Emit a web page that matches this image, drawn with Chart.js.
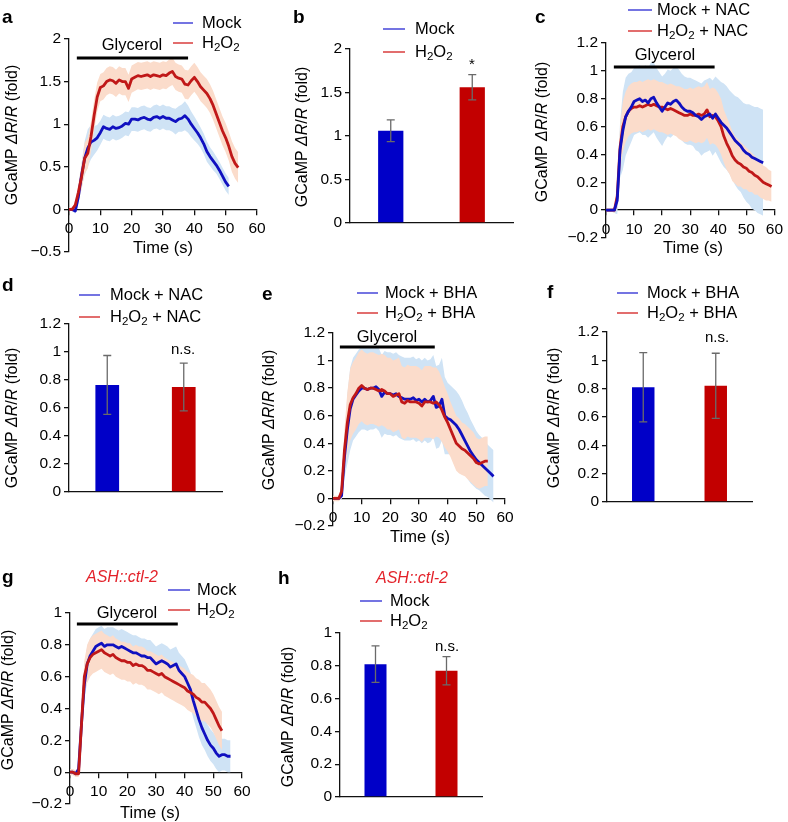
<!DOCTYPE html>
<html><head><meta charset="utf-8">
<script src="https://cdn.jsdelivr.net/npm/chart.js@4.4.1/dist/chart.umd.min.js"></script>
<style>
html,body{margin:0;padding:0;background:#fff;}
#wrap{position:relative;width:788px;height:822px;overflow:hidden;background:#fff;}
#wrap canvas{position:absolute;left:0;top:0;}
</style></head><body><div id="wrap"></div>
<script>
// ---------------- DATA ----------------
const T_STEP = 1; // seconds between samples
const X_TICKS = [0, 10, 20, 30, 40, 50, 60];
const BAR_CATS = ['Mock', 'H₂O₂'];

// Panel a (Mock vs H2O2)
const A_MOCK = [0,0,-0.02,0.15,0.4,0.6,0.72,0.79,0.81,0.84,
  0.9,0.97,0.95,0.94,0.97,0.95,0.96,0.98,1.01,1.0,
  1.06,1.06,1.05,1.07,1.08,1.06,1.05,1.08,1.09,1.07,
  1.09,1.07,1.07,1.05,1.03,1.06,1.07,1.1,1.06,1.0,
  0.95,0.9,0.84,0.77,0.68,0.62,0.57,0.52,0.46,0.39,
  0.32,0.27];
const A_MOCK_ERR = [0.02,0.02,0.03,0.08,0.14,0.2,0.22,0.2,0.17,0.15,
  0.14,0.14,0.14,0.14,0.14,0.14,0.14,0.14,0.14,0.14,
  0.14,0.14,0.14,0.14,0.14,0.14,0.14,0.14,0.14,0.14,
  0.14,0.14,0.14,0.14,0.15,0.15,0.16,0.17,0.16,0.15,
  0.14,0.13,0.12,0.12,0.12,0.11,0.11,0.1,0.1,0.1,
  0.1,0.1];
const A_H2O2 = [0,0,0.05,0.2,0.38,0.6,0.66,0.85,1.1,1.32,
  1.43,1.45,1.5,1.52,1.51,1.48,1.52,1.5,1.5,1.42,
  1.53,1.55,1.57,1.56,1.57,1.58,1.56,1.58,1.57,1.56,
  1.58,1.57,1.6,1.62,1.56,1.54,1.53,1.47,1.46,1.51,
  1.55,1.5,1.44,1.4,1.36,1.3,1.22,1.12,1.02,0.92,
  0.84,0.74,0.62,0.54,0.49];
const A_H2O2_ERR = [0.02,0.02,0.05,0.1,0.15,0.18,0.18,0.18,0.18,0.17,
  0.16,0.16,0.16,0.16,0.16,0.16,0.16,0.16,0.16,0.16,
  0.16,0.16,0.16,0.16,0.16,0.16,0.16,0.16,0.16,0.16,
  0.16,0.16,0.16,0.16,0.16,0.16,0.16,0.17,0.17,0.17,
  0.17,0.17,0.17,0.17,0.17,0.17,0.17,0.17,0.17,0.17,
  0.17,0.17,0.18,0.18,0.18];
const A_GLYCEROL = [2.5, 38];

// Panel b (bars)
const B_VALS = [1.06, 1.56];
const B_ERRS = [0.125, 0.145];

// Panel c (+ NAC)
const C_MOCK = [0,0,0,0,0.07,0.43,0.57,0.67,0.71,0.74,
  0.78,0.79,0.8,0.78,0.79,0.77,0.8,0.81,0.77,0.74,
  0.71,0.74,0.77,0.76,0.78,0.79,0.77,0.74,0.72,0.71,
  0.71,0.7,0.68,0.67,0.65,0.67,0.68,0.69,0.66,0.69,
  0.66,0.63,0.61,0.59,0.56,0.53,0.5,0.48,0.46,0.43,
  0.41,0.4,0.38,0.37,0.36,0.35,0.34];
const C_MOCK_ERR = [0.01,0.01,0.01,0.02,0.1,0.2,0.28,0.28,0.27,0.25,
  0.24,0.24,0.24,0.24,0.25,0.25,0.26,0.25,0.25,0.25,
  0.25,0.24,0.24,0.24,0.24,0.24,0.24,0.24,0.24,0.24,
  0.24,0.24,0.25,0.25,0.26,0.26,0.26,0.26,0.27,0.27,
  0.28,0.29,0.3,0.3,0.3,0.31,0.32,0.33,0.33,0.34,
  0.35,0.36,0.37,0.37,0.38,0.38,0.38];
const C_H2O2 = [0,0,0,0,0.1,0.45,0.6,0.67,0.71,0.73,
  0.74,0.74,0.75,0.74,0.75,0.76,0.75,0.76,0.75,0.74,
  0.74,0.73,0.72,0.73,0.72,0.71,0.7,0.69,0.68,0.68,
  0.69,0.68,0.68,0.69,0.68,0.69,0.72,0.67,0.68,0.67,
  0.64,0.6,0.53,0.48,0.44,0.39,0.36,0.34,0.33,0.31,
  0.3,0.28,0.27,0.25,0.24,0.22,0.2,0.19,0.18,0.17];
const C_H2O2_ERR = [0.01,0.01,0.01,0.02,0.08,0.15,0.18,0.18,0.18,0.18,
  0.18,0.18,0.18,0.18,0.18,0.18,0.18,0.18,0.18,0.18,
  0.18,0.18,0.18,0.18,0.18,0.18,0.19,0.19,0.19,0.19,
  0.19,0.19,0.2,0.2,0.2,0.2,0.2,0.2,0.2,0.2,
  0.2,0.2,0.19,0.19,0.18,0.18,0.17,0.17,0.16,0.16,
  0.15,0.15,0.14,0.14,0.13,0.13,0.12,0.12,0.11,0.11];
const C_GLYCEROL = [2.8, 38.7];

// Panel d (bars + NAC)
const D_VALS = [0.765, 0.75];
const D_ERRS = [0.21, 0.17];

// Panel e (+ BHA)
const E_MOCK = [0,0,0,0.02,0.3,0.5,0.65,0.72,0.75,0.78,
  0.8,0.8,0.79,0.8,0.8,0.81,0.79,0.74,0.77,0.76,
  0.76,0.75,0.76,0.74,0.73,0.72,0.72,0.72,0.73,0.71,
  0.72,0.7,0.72,0.7,0.71,0.74,0.66,0.67,0.72,0.6,
  0.58,0.57,0.55,0.53,0.5,0.46,0.42,0.38,0.34,0.31,
  0.28,0.26,0.24,0.22,0.2,0.18,0.16];
const E_MOCK_ERR = [0.01,0.01,0.01,0.03,0.15,0.25,0.3,0.3,0.3,0.3,
  0.3,0.3,0.3,0.3,0.3,0.3,0.3,0.3,0.3,0.3,
  0.3,0.3,0.3,0.3,0.3,0.3,0.3,0.3,0.3,0.3,
  0.3,0.3,0.3,0.3,0.3,0.3,0.3,0.3,0.3,0.28,
  0.26,0.25,0.25,0.25,0.25,0.25,0.24,0.24,0.23,0.22,
  0.21,0.2,0.2,0.2,0.19,0.19,0.19];
const E_H2O2 = [0,0,0,0.05,0.35,0.55,0.68,0.73,0.76,0.8,
  0.82,0.8,0.79,0.8,0.8,0.79,0.78,0.79,0.78,0.76,
  0.76,0.74,0.75,0.76,0.7,0.69,0.71,0.7,0.7,0.7,
  0.69,0.67,0.7,0.7,0.7,0.69,0.7,0.68,0.64,0.59,
  0.55,0.5,0.45,0.4,0.38,0.36,0.35,0.33,0.31,0.29,
  0.26,0.25,0.26,0.27,0.27];
const E_H2O2_ERR = [0.02,0.02,0.02,0.05,0.15,0.22,0.26,0.26,0.26,0.26,
  0.26,0.26,0.26,0.26,0.26,0.26,0.26,0.26,0.26,0.26,
  0.26,0.26,0.26,0.26,0.26,0.26,0.26,0.26,0.26,0.26,
  0.26,0.26,0.26,0.26,0.26,0.26,0.25,0.24,0.23,0.22,
  0.21,0.2,0.2,0.2,0.2,0.19,0.19,0.19,0.19,0.19,
  0.18,0.18,0.18,0.18,0.18];
const E_GLYCEROL = [2.4, 35.5];

// Panel f (bars + BHA)
const F_VALS = [0.81, 0.82];
const F_ERRS = [0.245, 0.23];

// Panel g (ASH::ctl-2)
const G_MOCK = [0,0,-0.01,0.02,0.3,0.55,0.68,0.73,0.76,0.79,
  0.8,0.81,0.79,0.8,0.8,0.8,0.79,0.78,0.79,0.78,
  0.77,0.76,0.75,0.75,0.74,0.73,0.73,0.72,0.72,0.7,
  0.68,0.69,0.7,0.69,0.68,0.66,0.67,0.68,0.64,0.62,
  0.6,0.56,0.52,0.45,0.39,0.33,0.28,0.24,0.2,0.17,
  0.15,0.12,0.1,0.11,0.11,0.1,0.1];
const G_MOCK_ERR = [0.01,0.01,0.01,0.02,0.08,0.1,0.11,0.11,0.11,0.11,
  0.11,0.11,0.11,0.11,0.11,0.11,0.11,0.11,0.11,0.11,
  0.11,0.11,0.11,0.11,0.11,0.11,0.11,0.11,0.11,0.11,
  0.11,0.11,0.11,0.11,0.11,0.11,0.11,0.11,0.11,0.11,
  0.11,0.11,0.11,0.11,0.11,0.11,0.11,0.1,0.1,0.1,
  0.1,0.1,0.1,0.1,0.1,0.1,0.1];
const G_H2O2 = [0,0,-0.01,-0.01,0.3,0.6,0.68,0.72,0.74,0.75,
  0.76,0.77,0.75,0.74,0.73,0.74,0.72,0.71,0.7,0.7,
  0.69,0.69,0.67,0.68,0.67,0.67,0.66,0.64,0.64,0.63,
  0.62,0.61,0.62,0.6,0.59,0.58,0.57,0.56,0.55,0.54,
  0.53,0.51,0.5,0.49,0.47,0.46,0.44,0.44,0.42,0.4,
  0.37,0.33,0.29,0.26];
const G_H2O2_ERR = [0.02,0.02,0.02,0.02,0.08,0.1,0.12,0.12,0.12,0.12,
  0.12,0.12,0.12,0.12,0.12,0.12,0.12,0.12,0.12,0.12,
  0.12,0.12,0.12,0.12,0.12,0.12,0.12,0.12,0.12,0.12,
  0.12,0.12,0.12,0.12,0.12,0.12,0.12,0.12,0.12,0.12,
  0.12,0.12,0.12,0.12,0.12,0.12,0.12,0.12,0.12,0.12,
  0.12,0.12,0.12,0.12];
const G_GLYCEROL = [2.4, 37.6];

// Panel h (bars ASH::ctl-2)
const H_VALS = [0.81, 0.77];
const H_ERRS = [0.111, 0.086];

// ---------------- STYLE ----------------
const FONT = "'Liberation Sans', Arial, Helvetica, sans-serif";
const TXT = '#000';
const BLUE_LINE = '#1010c0', RED_LINE = '#c01818';
const BLUE_BAND = '#cfe3f5', RED_BAND = '#fbdccb';
const BLUE_BAR = '#0000c8', RED_BAR = '#c20000';
const LEG_BLUE = '#4646d8', LEG_RED = '#d83c3c';
const ERR_COLOR = '#6a6a6a';
const HEAD_RED = '#e3222a';
const YW = 45;
const PAGE_W = 788, PAGE_H = 822;

function richParts(str){
  const out=[]; const re=/(_\{[^}]*\}|\*[^*]*\*)/g; let last=0, m;
  while((m=re.exec(str))){
    if(m.index>last) out.push({t:str.slice(last,m.index)});
    const s=m[0];
    if(s[0]==='_') out.push({t:s.slice(2,-1), sub:true}); else out.push({t:s.slice(1,-1), it:true});
    last=re.lastIndex;
  }
  if(last<str.length) out.push({t:str.slice(last)});
  return out;
}
function fontStr(size, it, bold){ return (it?'italic ':'')+(bold?'bold ':'')+size+'px '+FONT; }
function drawRich(ctx, str, x, y, size, align, color, bold){
  const parts=richParts(str);
  let w=0;
  parts.forEach(p=>{ p.size = p.sub? size*0.7 : size; ctx.font=fontStr(p.size,p.it,bold); p.w=ctx.measureText(p.t).width; w+=p.w; });
  let cx = align==='center'? x-w/2 : (align==='right'? x-w : x);
  ctx.fillStyle=color; ctx.textBaseline='middle'; ctx.textAlign='left';
  parts.forEach(p=>{ ctx.font=fontStr(p.size,p.it,bold); ctx.fillText(p.t, cx, y + (p.sub? size*0.32:0)); cx+=p.w; });
}

const decoPlugin = {
  id:'deco',
  afterDraw(chart, args, o){
    if(!o || !o.on) return;
    const ctx=chart.ctx, xs=chart.scales.x, ys=chart.scales.y;
    ctx.save();
    if(o.errs){
      const meta=chart.getDatasetMeta(0);
      ctx.strokeStyle=ERR_COLOR; ctx.lineWidth=1.3;
      meta.data.forEach((bar,i)=>{
        const v=o.errs.vals[i], e=o.errs.errs[i];
        const y1=ys.getPixelForValue(v+e), y2=ys.getPixelForValue(v-e);
        ctx.beginPath();
        ctx.moveTo(bar.x,y1); ctx.lineTo(bar.x,y2);
        ctx.moveTo(bar.x-4,y1); ctx.lineTo(bar.x+4,y1);
        ctx.moveTo(bar.x-4,y2); ctx.lineTo(bar.x+4,y2);
        ctx.stroke();
      });
    }
    if(o.gly){
      const x1=xs.getPixelForValue(o.gly.range[0]), x2=xs.getPixelForValue(o.gly.range[1]);
      ctx.strokeStyle='#000'; ctx.lineWidth=3;
      ctx.beginPath(); ctx.moveTo(x1,o.gly.y); ctx.lineTo(x2,o.gly.y); ctx.stroke();
      drawRich(ctx,'Glycerol',o.gly.tx,o.gly.ty,16.5,'center',TXT);
    }
    if(o.legend){
      o.legend.forEach(L=>{
        ctx.strokeStyle=L.c; ctx.lineWidth=1.5;
        ctx.beginPath(); ctx.moveTo(L.x1,L.y); ctx.lineTo(L.x2,L.y); ctx.stroke();
        drawRich(ctx,L.t,L.tx,L.y,16.5,'left',TXT);
      });
    }
    if(o.letter) drawRich(ctx,o.letter.t,o.letter.x,o.letter.y,19,'left','#000',true);
    if(o.ytitle){
      ctx.save(); ctx.translate(o.ytitle.x,o.ytitle.y); ctx.rotate(-Math.PI/2);
      drawRich(ctx,'GCaMP *ΔR*/*R* (fold)',0,0,16,'center',TXT);
      ctx.restore();
    }
    if(o.xtitle) drawRich(ctx,'Time (s)',o.xtitle.x,o.xtitle.y,16.5,'center',TXT);
    if(o.sig) drawRich(ctx,o.sig.t,o.sig.x,o.sig.y,15,'center',TXT);
    if(o.head) drawRich(ctx,'*ASH::ctl-2*',o.head.x,o.head.y,16,'center',HEAD_RED);
    ctx.restore();
  }
};
Chart.register(decoPlugin);

function pts(arr){ return arr.map((v,i)=>({x:i*T_STEP, y:v})); }
function bandPts(mean, err, sign){ return mean.map((v,i)=>({x:i*T_STEP, y:v+sign*err[i]})); }
function fmt(v){ return String(Math.round(v*100)/100).replace('-', '\u2212'); }
function pad(box){ return {left:box.left-YW, right:PAGE_W-box.right, top:box.top, bottom:PAGE_H-box.bottom}; }
function axisStyle(){
  return {
    grid:{display:true, drawOnChartArea:false, drawTicks:true, tickLength:5, color:'#111', lineWidth:1.3},
    border:{display:true, color:'#111', width:1.3}
  };
}
function newCanvas(){
  const c=document.createElement('canvas');
  c.width=PAGE_W; c.height=PAGE_H; c.style.width=PAGE_W+'px'; c.style.height=PAGE_H+'px';
  document.getElementById('wrap').appendChild(c);
  return c;
}

function lineChart(p){
  const ds = [
    {data:bandPts(p.mock,p.mockErr,1), borderWidth:0, pointRadius:0, fill:false, order:6},
    {data:bandPts(p.mock,p.mockErr,-1), borderWidth:0, pointRadius:0, fill:'-1', backgroundColor:BLUE_BAND, order:6},
    {data:bandPts(p.h2o2,p.h2o2Err,1), borderWidth:0, pointRadius:0, fill:false, order:5},
    {data:bandPts(p.h2o2,p.h2o2Err,-1), borderWidth:0, pointRadius:0, fill:'-1', backgroundColor:RED_BAND, order:5},
    {data:pts(p.mock), borderColor:BLUE_LINE, borderWidth:2.8, pointRadius:0, fill:false, order:p.blueTop?1:2},
    {data:pts(p.h2o2), borderColor:RED_LINE, borderWidth:2.8, pointRadius:0, fill:false, order:p.blueTop?2:1}
  ];
  const st=axisStyle(); const st2=axisStyle();
  return new Chart(newCanvas(), {
    type:'line',
    data:{datasets:ds},
    options:{
      responsive:false, animation:false, events:[],
      layout:{padding:pad(p.box)},
      elements:{line:{tension:0, borderJoinStyle:'round'}},
      scales:{
        x:{type:'linear', min:0, max:60, position:{y:0},
           afterBuildTicks(s){ s.ticks = X_TICKS.map(v=>({value:v})); },
           ticks:{font:{family:FONT,size:15.5}, color:TXT, padding:5, maxRotation:0, autoSkip:false},
           grid:st.grid, border:st.border, afterFit(s){ s.height=0; }},
        y:{type:'linear', min:p.ymin, max:p.ymax, position:'left',
           ticks:{stepSize:p.step, font:{family:FONT,size:15.5}, color:TXT, padding:3, callback:fmt},
           grid:st2.grid, border:st2.border, afterFit(s){ s.width=YW; }}
      },
      plugins:{legend:{display:false}, tooltip:{enabled:false}, deco:Object.assign({on:true}, p.deco)}
    }
  });
}

function barChart(p){
  const st=axisStyle();
  return new Chart(newCanvas(), {
    type:'bar',
    data:{labels:BAR_CATS, datasets:[{data:p.vals, backgroundColor:[BLUE_BAR,RED_BAR], barPercentage:1, categoryPercentage:0.31}]},
    options:{
      responsive:false, animation:false, events:[],
      layout:{padding:pad(p.box)},
      scales:{
        x:{type:'category', ticks:{display:false}, grid:{display:false, drawTicks:false}, border:{display:true,color:'#111',width:1.3}, afterFit(s){ s.height=0; }},
        y:{type:'linear', min:0, max:p.ymax, position:'left',
           ticks:{stepSize:p.step, font:{family:FONT,size:15.5}, color:TXT, padding:3, callback:fmt},
           grid:st.grid, border:st.border, afterFit(s){ s.width=YW; }}
      },
      plugins:{legend:{display:false}, tooltip:{enabled:false}, deco:Object.assign({on:true, errs:{vals:p.vals, errs:p.errs}}, p.deco)}
    }
  });
}

// ---------------- PANELS ----------------
lineChart({box:{left:69,right:257,top:39,bottom:252}, ymin:-0.5, ymax:2, step:0.5,
  mock:A_MOCK, mockErr:A_MOCK_ERR, h2o2:A_H2O2, h2o2Err:A_H2O2_ERR,
  deco:{letter:{t:'a',x:2,y:18},
    legend:[{t:'Mock',c:LEG_BLUE,x1:173,x2:193,y:23,tx:202},{t:'H_{2}O_{2}',c:LEG_RED,x1:173,x2:193,y:43,tx:202}],
    gly:{range:A_GLYCEROL,y:58,tx:132,ty:45}, ytitle:{x:13,y:135}, xtitle:{x:163,y:248}}});

barChart({box:{left:350,right:513,top:49,bottom:223}, ymax:2, step:0.5, vals:B_VALS, errs:B_ERRS,
  deco:{letter:{t:'b',x:293,y:18},
    legend:[{t:'Mock',c:LEG_BLUE,x1:383,x2:405,y:29,tx:415},{t:'H_{2}O_{2}',c:LEG_RED,x1:383,x2:405,y:52,tx:415}],
    ytitle:{x:303,y:137}, sig:{t:'*',x:472,y:65}}});

lineChart({box:{left:606,right:778,top:43,bottom:238}, ymin:-0.2, ymax:1.2, step:0.2, blueTop:true,
  mock:C_MOCK, mockErr:C_MOCK_ERR, h2o2:C_H2O2, h2o2Err:C_H2O2_ERR,
  deco:{letter:{t:'c',x:535,y:18},
    legend:[{t:'Mock + NAC',c:LEG_BLUE,x1:628,x2:652,y:10,tx:657},{t:'H_{2}O_{2} + NAC',c:LEG_RED,x1:628,x2:652,y:31,tx:657}],
    gly:{range:C_GLYCEROL,y:67,tx:665,ty:55}, ytitle:{x:543,y:132}, xtitle:{x:693,y:248}}});

barChart({box:{left:69,right:222,top:324,bottom:492}, ymax:1.2, step:0.2, vals:D_VALS, errs:D_ERRS,
  deco:{letter:{t:'d',x:2,y:286},
    legend:[{t:'Mock + NAC',c:LEG_BLUE,x1:79,x2:100,y:295,tx:110},{t:'H_{2}O_{2} + NAC',c:LEG_RED,x1:79,x2:100,y:317,tx:110}],
    ytitle:{x:13,y:418}, sig:{t:'n.s.',x:183,y:350}}});

lineChart({box:{left:333,right:505,top:333,bottom:526}, ymin:-0.2, ymax:1.2, step:0.2,
  mock:E_MOCK, mockErr:E_MOCK_ERR, h2o2:E_H2O2, h2o2Err:E_H2O2_ERR,
  deco:{letter:{t:'e',x:262,y:295},
    legend:[{t:'Mock + BHA',c:LEG_BLUE,x1:357,x2:378,y:293,tx:385},{t:'H_{2}O_{2} + BHA',c:LEG_RED,x1:357,x2:378,y:313,tx:385}],
    gly:{range:E_GLYCEROL,y:347,tx:387,ty:337}, ytitle:{x:270,y:420}, xtitle:{x:420,y:537}}});

barChart({box:{left:607,right:752,top:332,bottom:502}, ymax:1.2, step:0.2, vals:F_VALS, errs:F_ERRS,
  deco:{letter:{t:'f',x:547,y:293},
    legend:[{t:'Mock + BHA',c:LEG_BLUE,x1:617,x2:638,y:293,tx:647},{t:'H_{2}O_{2} + BHA',c:LEG_RED,x1:617,x2:638,y:313,tx:647}],
    ytitle:{x:555,y:418}, sig:{t:'n.s.',x:717,y:338}}});

lineChart({box:{left:70,right:242,top:613,bottom:804}, ymin:-0.2, ymax:1, step:0.2,
  mock:G_MOCK, mockErr:G_MOCK_ERR, h2o2:G_H2O2, h2o2Err:G_H2O2_ERR,
  deco:{letter:{t:'g',x:2,y:578}, head:{x:122,y:578},
    legend:[{t:'Mock',c:LEG_BLUE,x1:168,x2:190,y:590,tx:197},{t:'H_{2}O_{2}',c:LEG_RED,x1:168,x2:190,y:610,tx:197}],
    gly:{range:G_GLYCEROL,y:624,tx:127,ty:613}, ytitle:{x:9,y:700}, xtitle:{x:150,y:813}}});

barChart({box:{left:340,right:482,top:633,bottom:797}, ymax:1, step:0.2, vals:H_VALS, errs:H_ERRS,
  deco:{letter:{t:'h',x:278,y:579}, head:{x:412,y:579},
    legend:[{t:'Mock',c:LEG_BLUE,x1:360,x2:382,y:601,tx:390},{t:'H_{2}O_{2}',c:LEG_RED,x1:360,x2:382,y:621,tx:390}],
    ytitle:{x:289,y:717}, sig:{t:'n.s.',x:447,y:647}}});
</script>
</body></html>
